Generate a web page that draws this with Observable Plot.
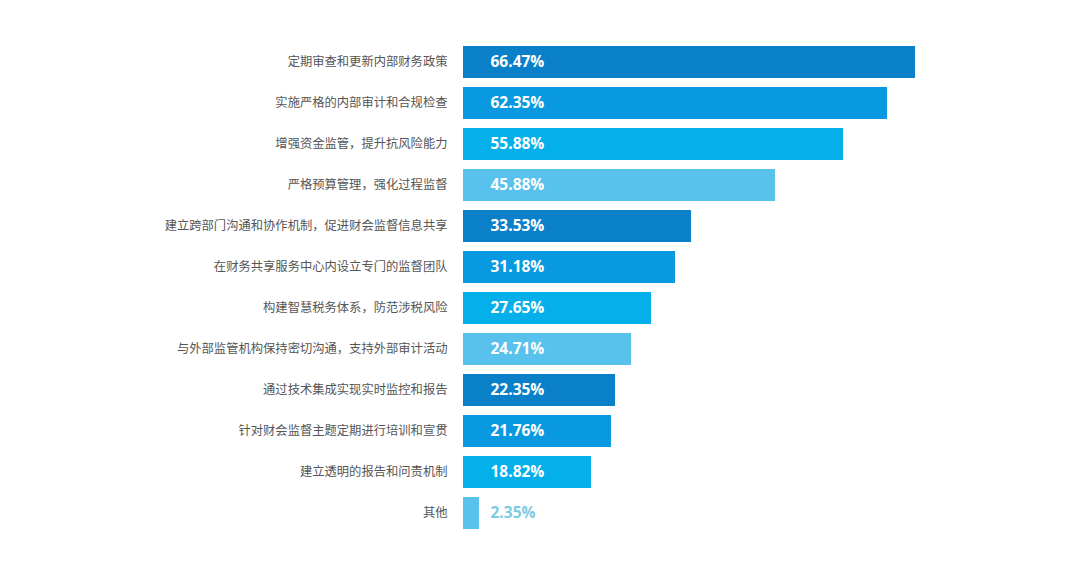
<!DOCTYPE html>
<html><head><meta charset="utf-8">
<script src="https://cdn.jsdelivr.net/npm/d3@7"></script>
<script src="https://cdn.jsdelivr.net/npm/@observablehq/plot@0.6"></script>
<style>
body{margin:0;background:#fff;}
#chart{width:1080px;height:570px;}
</style>
</head><body><div id="chart"></div>
<script>
const categories = ["定期审查和更新内部财务政策","实施严格的内部审计和合规检查","增强资金监管，提升抗风险能力","严格预算管理，强化过程监督","建立跨部门沟通和协作机制，促进财会监督信息共享","在财务共享服务中心内设立专门的监督团队","构建智慧税务体系，防范涉税风险","与外部监管机构保持密切沟通，支持外部审计活动","通过技术集成实现实时监控和报告","针对财会监督主题定期进行培训和宣贯","建立透明的报告和问责机制","其他"];
const values = [66.47,62.35,55.88,45.88,33.53,31.18,27.65,24.71,22.35,21.76,18.82,2.35];
const palette = ["#0a80c9","#0999e0","#05b0ea","#58c1ec"];
const data = categories.map((c,i)=>({category:c,value:values[i],shade:i%4,label:values[i].toFixed(2)+"%"}));
const chart = Plot.plot({
  width:1080, height:570,
  marginLeft:463, marginRight:165, marginTop:40, marginBottom:35,
  style:{fontFamily:"'Noto Sans CJK SC','Open Sans',sans-serif",background:"#fff"},
  x:{domain:[0,66.47],axis:null},
  y:{domain:categories,paddingInner:0.22,paddingOuter:0.11,label:null},
  color:{domain:[0,1,2,3],range:palette},
  marks:[
    Plot.barX(data,{x:"value",y:"category",fill:d=>d.shade}),
    Plot.axisY({tickSize:0,tickPadding:16,fontSize:12.3,color:"#555",label:null}),
    Plot.text(data,{x:0,y:"category",text:"label",dx:27,textAnchor:"start",
      fill:d=>d.value<5?"#7ccbe2":"#fff",fontSize:15.5,fontWeight:"bold",
      fontFamily:"'Open Sans',sans-serif"})
  ]
});
document.getElementById("chart").append(chart);
</script></body></html>
